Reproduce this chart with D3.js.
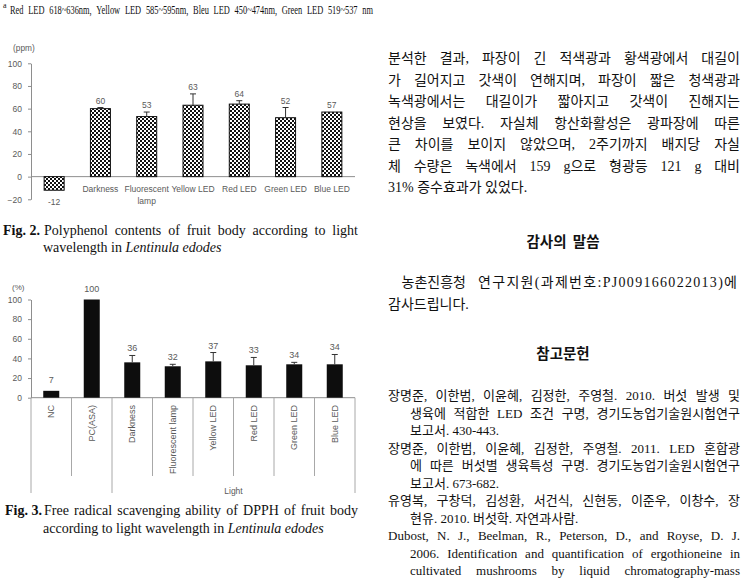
<!DOCTYPE html>
<html><head><meta charset="utf-8">
<script src="https://cdn.jsdelivr.net/npm/d3@7/dist/d3.min.js"></script>
<style>body{margin:0;background:#fff} svg{display:block}</style>
</head><body>
<svg id="page" width="744" height="579"></svg>
<script>
// ---------- DATA ----------
const fig2Categories = ["", "Darkness", "Fluorescent\nlamp", "Yellow LED", "Red LED", "Green LED", "Blue LED"];
const fig2Values = [-12, 60, 53, 63, 64, 52, 57];
const fig2Errors = [0, 1, 4, 10, 3, 9, 0];
const fig2Ticks = [-20, 0, 20, 40, 60, 80, 100];

const fig3Categories = ["NC", "PC(ASA)", "Darkness", "Fluorescent lamp", "Yellow LED", "Red LED", "Green LED", "Blue LED"];
const fig3Values = [7, 100, 36, 32, 37, 33, 34, 34];
const fig3Errors = [0, 0, 7, 2, 9, 8, 2, 10];
const fig3Ticks = [0, 20, 40, 60, 80, 100];
const fig3GroupNames = ["", "Light"];
const fig3GroupSizes = [2, 6];

const footnote = "Red LED 618~636nm, Yellow LED 585~595nm, Bleu LED 450~474nm, Green LED 519~537 nm";
const bodyLines = [
  "분석한 결과, 파장이 긴 적색광과 황색광에서 대길이",
  "가 길어지고 갓색이 연해지며, 파장이 짧은 청색광과",
  "녹색광에서는 대길이가 짧아지고 갓색이 진해지는",
  "현상을 보였다. 자실체 항산화활성은 광파장에 따른",
  "큰 차이를 보이지 않았으며, 2주기까지 배지당 자실",
  "체 수량은 녹색에서 159 g으로 형광등 121 g 대비",
  "31% 증수효과가 있었다."
];
const ackTitle = "감사의 말씀";
const ackLines = ["농촌진흥청", "연구지원(과제번호:PJ009166022013)에", "감사드립니다."];
const refTitle = "참고문헌";
const refLines = [
  ["장명준, 이한범, 이윤혜, 김정한, 주영철. 2010. 버섯 발생 및", 0, true],
  ["생육에 적합한 LED 조건 구명, 경기도농업기술원시험연구", 1, true],
  ["보고서. 430-443.", 1, false],
  ["장명준, 이한범, 이윤혜, 김정한, 주영철. 2011. LED 혼합광", 0, true],
  ["에 따른 버섯별 생육특성 구명. 경기도농업기술원시험연구", 1, true],
  ["보고서. 673-682.", 1, false],
  ["유영복, 구창덕, 김성환, 서건식, 신현동, 이준우, 이창수, 장", 0, true],
  ["현유. 2010. 버섯학. 자연과사람.", 1, false],
  ["Dubost, N. J., Beelman, R., Peterson, D., and Royse, D. J.", 0, true],
  ["2006. Identification and quantification of ergothioneine in", 1, true],
  ["cultivated mushrooms by liquid chromatography-mass", 1, true]
];
const fig2Caption = ["Fig. 2.", "Polyphenol contents of fruit body according to light", "wavelength in ", "Lentinula edodes"];
const fig3Caption = ["Fig. 3.", "Free radical scavenging ability of DPPH of fruit body", "according to light wavelength in ", "Lentinula edodes"];

// ---------- DRAW ----------
const svg = d3.select("#page");
const serif = "'Liberation Serif', 'Times New Roman', serif";
const serifKR = "'Liberation Serif', 'Noto Sans CJK KR', serif";
const sansKR = "'Noto Sans CJK KR', sans-serif";
const chartFont = "'Liberation Sans', Arial, sans-serif";
const chartGray = "#5a5a5a";
const axisGray = "#8e8e8e";
const textCol = "#111";

// justified line: words spread between x0 and x1
function justify(parent, str, x0, x1, y, family, size) {
  const words = str.split(/\s+/);
  const t = parent.append("text").attr("y", y).attr("font-family", family)
    .attr("font-size", size).attr("fill", textCol);
  const spans = words.map(w => t.append("tspan").attr("x", x0).text(w));
  const widths = spans.map(s => s.node().getComputedTextLength());
  const total = d3.sum(widths);
  const gap = words.length > 1 ? (x1 - x0 - total) / (words.length - 1) : 0;
  let x = x0;
  spans.forEach((s, i) => { s.attr("x", x); x += widths[i] + gap; });
  return t;
}

const defs = svg.append("defs");
const pat = defs.append("pattern").attr("id", "checker")
  .attr("patternUnits", "userSpaceOnUse").attr("width", 4).attr("height", 4);
pat.append("rect").attr("width", 4).attr("height", 4).attr("fill", "#fff");
pat.append("rect").attr("width", 2).attr("height", 2).attr("fill", "#111");
pat.append("rect").attr("x", 2).attr("y", 2).attr("width", 2).attr("height", 2).attr("fill", "#111");

// footnote (condensed serif, justified)
svg.append("text").attr("x", 3).attr("y", 8).attr("font-family", serif).attr("font-size", 8).attr("fill", textCol).text("a");
const fnScale = 0.62;
const fn = svg.append("g").attr("transform", `translate(10,0) scale(${fnScale},1)`);
justify(fn, footnote, 0, 363 / fnScale, 14, serif, 13.5);

// ===== Fig 2 =====
const g2 = svg.append("g");
const x2 = d3.scaleBand().domain(d3.range(fig2Categories.length)).range([31, 355]);
const y2 = d3.scaleLinear().domain([-20, 100]).range([199.3, 63.3]);
const bw2 = 20;

const ax2 = g2.append("g").attr("transform", "translate(31,0)")
  .call(d3.axisLeft(y2).tickValues(fig2Ticks).tickSize(3).tickSizeOuter(0).tickPadding(6));
ax2.select(".domain").attr("stroke", axisGray);
ax2.selectAll(".tick line").attr("stroke", axisGray);
ax2.selectAll(".tick text").attr("font-family", chartFont).attr("font-size", 8.5).attr("fill", chartGray);
g2.append("line").attr("x1", 31).attr("x2", 355).attr("y1", y2(0)).attr("y2", y2(0)).attr("stroke", axisGray);
g2.append("text").attr("x", 13).attr("y", 51).attr("font-family", chartFont).attr("font-size", 8.3)
  .attr("fill", chartGray).text("(ppm)");

g2.selectAll("rect.bar").data(fig2Values).join("rect").attr("class", "bar")
  .attr("x", (d, i) => x2(i) + (x2.bandwidth() - bw2) / 2)
  .attr("y", d => Math.min(y2(d), y2(0)))
  .attr("width", bw2)
  .attr("height", d => Math.abs(y2(d) - y2(0)))
  .attr("fill", "url(#checker)").attr("stroke", "#111").attr("stroke-width", 1);

fig2Values.forEach((v, i) => {
  const cx = x2(i) + x2.bandwidth() / 2;
  const e = fig2Errors[i];
  if (e > 0 && v > 0) {
    g2.append("line").attr("x1", cx).attr("x2", cx).attr("y1", y2(v)).attr("y2", y2(v + e)).attr("stroke", "#333");
    g2.append("line").attr("x1", cx - 3).attr("x2", cx + 3).attr("y1", y2(v + e)).attr("y2", y2(v + e)).attr("stroke", "#333");
  }
  const ly = v >= 0 ? y2(v + e) - 4 : y2(v) + 15;
  g2.append("text").attr("x", cx).attr("y", ly).attr("text-anchor", "middle")
    .attr("font-family", chartFont).attr("font-size", 8.5).attr("fill", chartGray).text(v);
  fig2Categories[i].split("\n").forEach((t, k) => {
    g2.append("text").attr("x", cx).attr("y", 192 + k * 11.5).attr("text-anchor", "middle")
      .attr("font-family", chartFont).attr("font-size", 8.5).attr("fill", chartGray).text(t);
  });
});

// Fig 2 caption
svg.append("text").attr("x", 3).attr("y", 234.5).attr("font-family", serif).attr("font-size", 14)
  .attr("font-weight", "bold").attr("fill", textCol).text(fig2Caption[0]);
justify(svg, fig2Caption[1], 44, 358, 234.5, serif, 14);
const c2 = svg.append("text").attr("x", 43).attr("y", 251.5).attr("font-family", serif).attr("font-size", 14).attr("fill", textCol);
c2.append("tspan").text(fig2Caption[2]);
c2.append("tspan").attr("font-style", "italic").text(fig2Caption[3]);

// ===== Fig 3 =====
const g3 = svg.append("g");
const x3 = d3.scaleBand().domain(d3.range(fig3Categories.length)).range([31, 355]);
const y3 = d3.scaleLinear().domain([0, 100]).range([397.7, 299.5]);
const bw3 = 16;

const ax3 = g3.append("g").attr("transform", "translate(31,0)")
  .call(d3.axisLeft(y3).tickValues(fig3Ticks).tickSize(3).tickSizeOuter(0).tickPadding(6));
ax3.select(".domain").attr("stroke", axisGray);
ax3.selectAll(".tick line").attr("stroke", axisGray);
ax3.selectAll(".tick text").attr("font-family", chartFont).attr("font-size", 8.5).attr("fill", chartGray);
g3.append("line").attr("x1", 31).attr("x2", 355).attr("y1", y3(0)).attr("y2", y3(0)).attr("stroke", axisGray);
g3.append("text").attr("x", 12).attr("y", 290).attr("font-family", chartFont).attr("font-size", 8)
  .attr("fill", chartGray).text("(%)");

// separators
const groupEdges = [0];
fig3GroupSizes.forEach(s => groupEdges.push(groupEdges[groupEdges.length - 1] + s));
d3.range(fig3Categories.length + 1).forEach(k => {
  const xx = k < fig3Categories.length ? x3(k) : x3.range()[1];
  const long = groupEdges.includes(k);
  g3.append("line").attr("x1", xx).attr("x2", xx).attr("y1", y3(0)).attr("y2", long ? 493 : 476)
    .attr("stroke", "#a8a8a8");
});
fig3GroupNames.forEach((n, gi) => {
  const a = x3(groupEdges[gi]);
  const b = groupEdges[gi + 1] < fig3Categories.length ? x3(groupEdges[gi + 1]) : x3.range()[1];
  g3.append("text").attr("x", (a + b) / 2).attr("y", 494).attr("text-anchor", "middle")
    .attr("font-family", chartFont).attr("font-size", 8.5).attr("fill", chartGray).text(n);
});

g3.selectAll("rect.bar").data(fig3Values).join("rect").attr("class", "bar")
  .attr("x", (d, i) => x3(i) + (x3.bandwidth() - bw3) / 2)
  .attr("y", d => y3(d))
  .attr("width", bw3)
  .attr("height", d => y3(0) - y3(d))
  .attr("fill", "#0d0d0d");

fig3Values.forEach((v, i) => {
  const cx = x3(i) + x3.bandwidth() / 2;
  const e = fig3Errors[i];
  if (e > 0) {
    g3.append("line").attr("x1", cx).attr("x2", cx).attr("y1", y3(v)).attr("y2", y3(v + e)).attr("stroke", "#333");
    g3.append("line").attr("x1", cx - 3).attr("x2", cx + 3).attr("y1", y3(v + e)).attr("y2", y3(v + e)).attr("stroke", "#333");
  }
  const off = e > 0 ? 4 : 8;
  g3.append("text").attr("x", cx).attr("y", y3(v + e) - off).attr("text-anchor", "middle")
    .attr("font-family", chartFont).attr("font-size", 9).attr("fill", chartGray).text(v);
  g3.append("text").attr("transform", `translate(${cx},405) rotate(-90)`)
    .attr("text-anchor", "end").attr("dy", "0.35em")
    .attr("font-family", chartFont).attr("font-size", 9).attr("fill", chartGray).text(fig3Categories[i]);
});

// Fig 3 caption
svg.append("text").attr("x", 5).attr("y", 514.5).attr("font-family", serif).attr("font-size", 14)
  .attr("font-weight", "bold").attr("fill", textCol).text(fig3Caption[0]);
justify(svg, fig3Caption[1], 44, 358, 514.5, serif, 14);
const c3 = svg.append("text").attr("x", 43).attr("y", 533).attr("font-family", serif).attr("font-size", 14).attr("fill", textCol);
c3.append("tspan").text(fig3Caption[2]);
c3.append("tspan").attr("font-style", "italic").text(fig3Caption[3]);

// ===== Right column =====
bodyLines.forEach((t, i) => {
  if (i < bodyLines.length - 1) justify(svg, t, 388, 740, 63 + i * 21.5, serifKR, 14);
  else svg.append("text").attr("x", 388).attr("y", 63 + i * 21.5)
    .attr("font-family", serifKR).attr("font-size", 14).attr("fill", textCol).text(t);
});
svg.append("text").attr("x", 563).attr("y", 247).attr("text-anchor", "middle")
  .attr("font-family", sansKR).attr("font-weight", "bold").attr("font-size", 14.5)
  .attr("word-spacing", 3).attr("fill", textCol).text(ackTitle);
svg.append("text").attr("x", 401.5).attr("y", 287).attr("font-family", serifKR).attr("font-size", 14)
  .attr("fill", textCol).text(ackLines[0]);
svg.append("text").attr("x", 478).attr("y", 287).attr("font-family", serifKR).attr("font-size", 14)
  .attr("textLength", 259).attr("lengthAdjust", "spacing").attr("fill", textCol).text(ackLines[1]);
svg.append("text").attr("x", 388).attr("y", 308.5).attr("font-family", serifKR).attr("font-size", 14)
  .attr("fill", textCol).text(ackLines[2]);
svg.append("text").attr("x", 563).attr("y", 358.5).attr("text-anchor", "middle")
  .attr("font-family", sansKR).attr("font-weight", "bold").attr("font-size", 14.5).attr("fill", textCol).text(refTitle);
refLines.forEach(([t, indent, just], i) => {
  const x0 = indent ? 410 : 388;
  if (just) justify(svg, t, x0, 740, 400 + i * 17.5, serifKR, 13);
  else svg.append("text").attr("x", x0).attr("y", 400 + i * 17.5)
    .attr("font-family", serifKR).attr("font-size", 13).attr("fill", textCol).text(t);
});
</script>
</body></html>
